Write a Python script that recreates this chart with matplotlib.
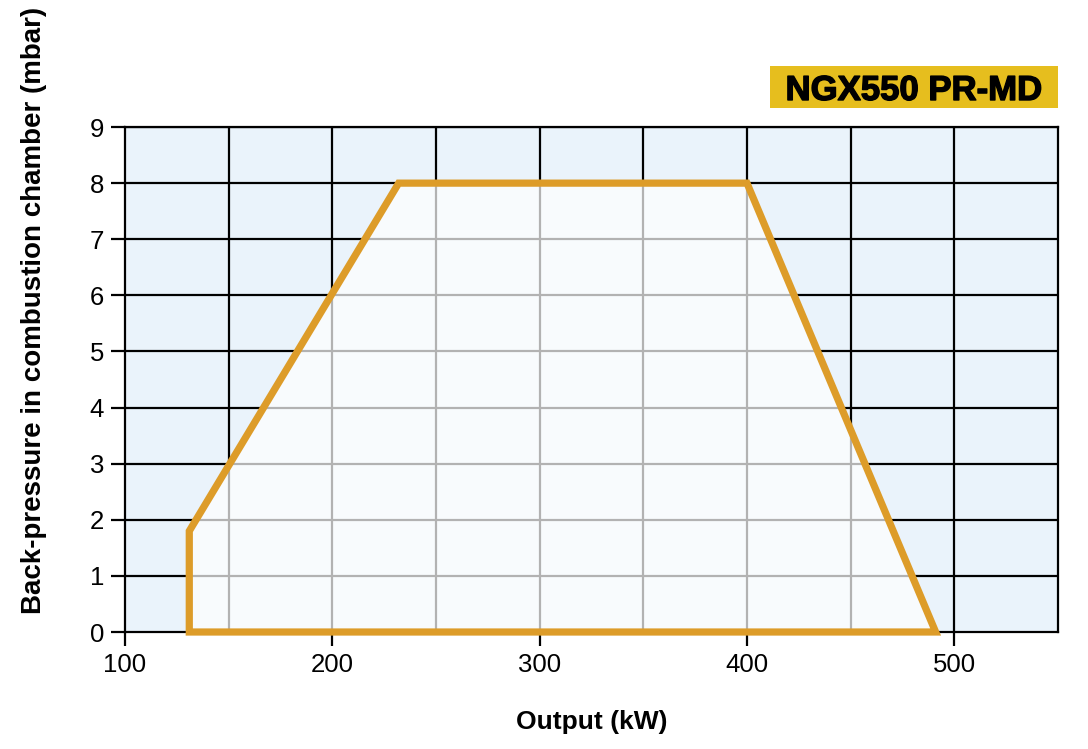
import matplotlib
matplotlib.use("Agg")
import matplotlib.pyplot as plt
from matplotlib.patches import Polygon, Rectangle
import matplotlib.patheffects as pe

plt.rcParams['font.family'] = ['Liberation Sans', 'DejaVu Sans']

output_kw = [131, 131, 232, 400, 491]
pressure_mbar = [0, 1.8, 8, 8, 0]
x_ticks = [100, 200, 300, 400, 500]
y_ticks = [0, 1, 2, 3, 4, 5, 6, 7, 8, 9]
x_grid = [150, 200, 250, 300, 350, 400, 450, 500]
title = "NGX550 PR-MD"

fig = plt.figure(figsize=(10.88, 7.49), dpi=100)
ax = fig.add_axes([0.1149, 0.1562, 0.9724 - 0.1149, 0.8304 - 0.1562])
ax.set_facecolor('#eaf3fb')
ax.set_xlim(100, 550)
ax.set_ylim(0, 9)

for xv in x_grid:
    ax.axvline(xv, color='black', lw=1.6, zorder=1)
for yv in y_ticks[1:]:
    ax.axhline(yv, color='black', lw=1.6, zorder=1)

pts = list(zip(output_kw, pressure_mbar))
ax.add_patch(Polygon(pts, closed=True, facecolor='white', alpha=0.7, edgecolor='none', zorder=2))
ax.add_patch(Polygon(pts, closed=True, facecolor='none', edgecolor='#dd9c29', lw=5.2,
                     joinstyle='miter', zorder=4, clip_on=False))

for s in ax.spines.values():
    s.set_color('black')
    s.set_linewidth(1.6)
    s.set_zorder(3)

ax.set_xticks(x_ticks)
ax.set_yticks(y_ticks)
ax.tick_params(axis='both', direction='out', length=10, width=1.6, labelsize=18.5, colors='black')
ax.tick_params(axis='x', pad=5)
ax.tick_params(axis='y', length=10, pad=5)

ax.set_xlabel('Output (kW)', fontsize=19, fontweight='bold', labelpad=24)
fig.text(34 / 1088, 1 - 310 / 749, 'Back-pressure in combustion chamber (mbar)',
         rotation=90, ha='center', va='center', fontsize=20, fontweight='bold', color='black')

fig.patches.append(Rectangle((770 / 1088, 1 - 108 / 749), 288 / 1088, 42 / 749,
                             transform=fig.transFigure, facecolor='#e6be1e', edgecolor='none'))
fig.text(914 / 1088, 1 - 87 / 749, title, ha='center', va='center_baseline',
         fontsize=25, fontweight='bold', color='black',
         path_effects=[pe.withStroke(linewidth=1.0, foreground='black')])

fig.savefig('out.png', dpi=100)
